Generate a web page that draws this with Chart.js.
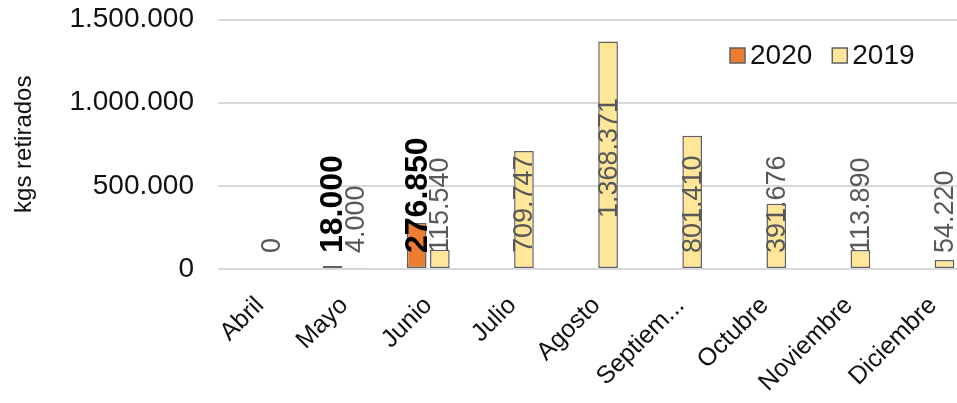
<!DOCTYPE html>
<html>
<head>
<meta charset="utf-8">
<script src="https://cdn.jsdelivr.net/npm/chart.js@4/dist/chart.umd.min.js"></script>
<style>
  html, body { margin: 0; padding: 0; background: #fff; overflow: hidden; }
  #wrap { width: 975px; height: 403px; }
</style>
</head>
<body>
<div id="wrap"><canvas id="chart" width="975" height="403"></canvas></div>
<script>
// months shown on the x axis
const months = ['Abril', 'Mayo', 'Junio', 'Julio', 'Agosto', 'Septiembre', 'Octubre', 'Noviembre', 'Diciembre'];
// kgs retirados per month
const kgs2020 = [null, 18000, 276850, null, null, null, null, null, null];
const kgs2019 = [0, 4000, 115540, 709747, 1368371, 801410, 391676, 113890, 54220];
const yTicks = [0, 500000, 1000000, 1500000];

const ORANGE = '#ED7D31';
const YELLOW = '#FFE699';
const OUTLINE = '#606060';
const FONT = "'Liberation Sans', Arial, sans-serif";

// 1.234.567 style
const fmt = v => String(v).replace(/\B(?=(\d{3})+(?!\d))/g, '.');

// value labels, written bottom-to-top above the base line
const valueLabels = {
  id: 'valueLabels',
  afterDatasetsDraw(chart) {
    const ctx = chart.ctx;
    const zero = chart.scales.y.getPixelForValue(0);
    const styles = [
      { font: 'bold 32px ' + FONT, color: '#000000', raise: [] },
      { font: '27px ' + FONT, color: '#595959', raise: [0, 0, 0, 0, 35] } // Agosto label sits higher
    ];
    chart.data.datasets.forEach((ds, di) => {
      const meta = chart.getDatasetMeta(di);
      const st = styles[di];
      meta.data.forEach((bar, i) => {
        const v = ds.data[i];
        if (v === null || v === undefined) return;
        ctx.save();
        ctx.translate(bar.x, zero - 16 - (st.raise[i] || 0));
        ctx.rotate(-Math.PI / 2);
        ctx.font = st.font;
        ctx.fillStyle = st.color;
        ctx.textAlign = 'left';
        ctx.textBaseline = 'middle';
        ctx.fillText(fmt(v), 0, 1);
        ctx.restore();
      });
    });
  }
};

// legend in the upper right of the plot
const cornerLegend = {
  id: 'cornerLegend',
  afterDraw(chart) {
    const ctx = chart.ctx;
    let x = 730;
    const y = 55.5;
    ctx.save();
    ctx.font = '28px ' + FONT;
    ctx.textBaseline = 'middle';
    chart.data.datasets.forEach(ds => {
      ctx.fillStyle = ds.backgroundColor;
      ctx.fillRect(x, y - 7.5, 15, 15);
      ctx.strokeStyle = OUTLINE;
      ctx.lineWidth = 1.5;
      ctx.strokeRect(x, y - 7.5, 15, 15);
      ctx.fillStyle = '#111';
      ctx.fillText(ds.label, x + 20, y + 1);
      x += 20 + ctx.measureText(ds.label).width + 20;
    });
    ctx.restore();
  }
};

new Chart(document.getElementById('chart'), {
  type: 'bar',
  data: {
    labels: months,
    datasets: [
      {
        label: '2020',
        data: kgs2020,
        backgroundColor: ORANGE,
        borderColor: OUTLINE,
        borderWidth: 1.5,
        borderSkipped: false
      },
      {
        label: '2019',
        data: kgs2019,
        backgroundColor: YELLOW,
        borderColor: OUTLINE,
        borderWidth: 1.5,
        borderSkipped: false
      }
    ]
  },
  options: {
    responsive: false,
    animation: false,
    devicePixelRatio: 1,
    categoryPercentage: 0.55,
    barPercentage: 0.85,
    layout: { padding: { top: 19.5, left: 0, right: 0, bottom: 0 } },
    plugins: {
      legend: { display: false },
      tooltip: { enabled: false }
    },
    scales: {
      x: {
        grid: { display: false },
        border: { display: false },
        ticks: {
          autoSkip: false,
          minRotation: 45,
          maxRotation: 45,
          padding: 14,
          color: '#111',
          font: { family: FONT, size: 25 },
          callback: function (val) {
            const t = this.getLabelForValue(val);
            return t.length > 9 ? t.slice(0, 7) + '...' : t;
          }
        },
        afterFit: s => { s.height = 134; }
      },
      y: {
        min: 0,
        max: 1500000,
        afterBuildTicks: s => { s.ticks = yTicks.map(v => ({ value: v })); },
        grid: { color: '#d9d9d9', lineWidth: 2, drawTicks: false },
        border: { display: false },
        ticks: {
          padding: 24,
          color: '#111',
          font: { family: FONT, size: 28 },
          callback: v => fmt(v)
        },
        title: {
          display: true,
          text: 'kgs retirados',
          color: '#111',
          font: { family: FONT, size: 24 },
          padding: { top: 10, bottom: 0 }
        },
        afterFit: s => {
          s.width = 218;
          s.paddingTop = 0;
          s.paddingBottom = 0;
        }
      }
    }
  },
  plugins: [valueLabels, cornerLegend]
});
</script>
</body>
</html>
